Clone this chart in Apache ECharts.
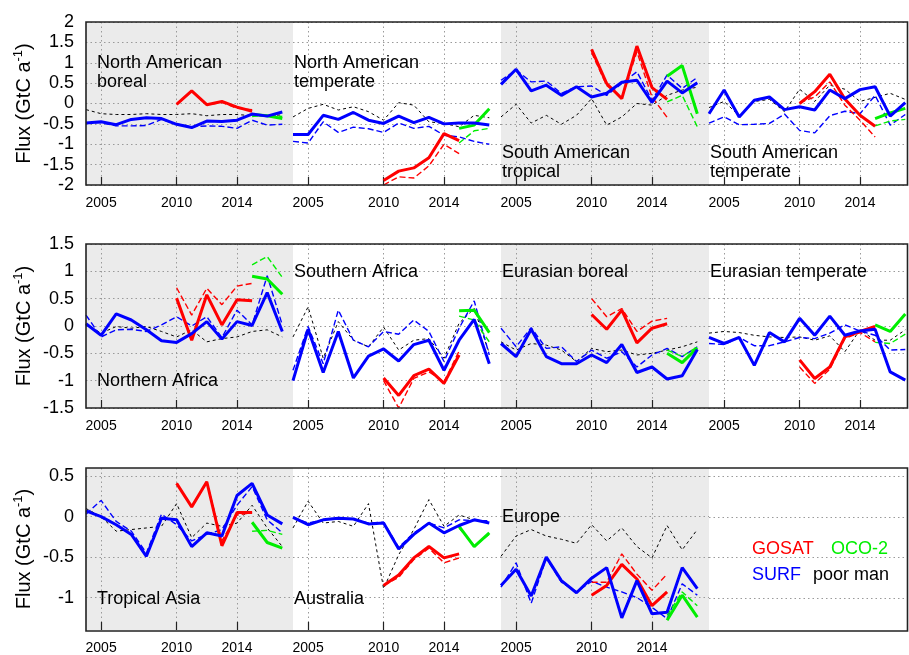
<!DOCTYPE html>
<html>
<head>
<meta charset="utf-8">
<script src="https://cdn.jsdelivr.net/npm/echarts@6/dist/echarts.min.js"></script>
<style>
html, body { margin: 0; padding: 0; background: #fff; }
#main { width: 909px; height: 655px; }
</style>
</head>
<body>
<div id="main"></div>
<script>
// years
const years = [2004, 2005, 2006, 2007, 2008, 2009, 2010, 2011, 2012, 2013, 2014, 2015, 2016, 2017];
const gosatYears = [2010, 2011, 2012, 2013, 2014, 2015];
const ocoYears = [2015, 2016, 2017];
const xTicks = [2005, 2010, 2014];

// panel names (same order as the value rows below)
const regions = [
    'North American\nboreal', 'North American\ntemperate', 'South American\ntropical', 'South American\ntemperate',
    'Northern Africa', 'Southern Africa', 'Eurasian boreal', 'Eurasian temperate',
    'Tropical Asia', 'Australia', 'Europe'
];

// SURF, thick solid blue
const surfSolid = [
    [-0.48, -0.45, -0.52, -0.39, -0.35, -0.37, -0.51, -0.59, -0.43, -0.44, -0.41, -0.26, -0.31, -0.21],
    [-0.76, -0.76, -0.29, -0.39, -0.22, -0.41, -0.49, -0.31, -0.47, -0.34, -0.5, -0.48, -0.48, -0.53],
    [0.47, 0.84, 0.31, 0.45, 0.2, 0.41, 0.16, 0.25, 0.52, 0.57, 0.03, 0.55, 0.26, 0.51],
    [-0.25, 0.33, -0.33, 0.08, 0.16, -0.15, -0.08, -0.16, 0.33, 0.12, 0.34, 0.41, -0.31, 0.02],
    [0.04, -0.17, 0.22, 0.11, -0.07, -0.27, -0.3, -0.14, 0.08, -0.24, 0.08, 0.01, 0.61, -0.1],
    [-1.0, -0.06, -0.85, -0.1, -0.95, -0.55, -0.42, -0.64, -0.34, -0.26, -0.81, -0.26, 0.12, -0.69],
    [-0.32, -0.56, -0.06, -0.56, -0.69, -0.69, -0.53, -0.67, -0.34, -0.85, -0.75, -0.97, -0.91, -0.43],
    [-0.21, -0.32, -0.21, -0.72, -0.12, -0.29, 0.14, -0.17, 0.18, -0.17, -0.09, -0.06, -0.84, -0.99],
    [0.07, 0.0, -0.1, -0.22, -0.49, -0.02, -0.04, -0.37, -0.2, -0.24, 0.26, 0.41, 0.02, -0.09],
    [-0.01, -0.1, -0.04, -0.02, -0.03, -0.09, -0.08, -0.4, -0.22, -0.08, -0.2, -0.11, -0.04, -0.08],
    [-0.85, -0.65, -0.98, -0.5, -0.79, -0.94, -0.76, -0.63, -1.25, -0.79, -1.2, -1.18, -0.63, -0.89]
];

// SURF, thin dashed blue
const surfDashed = [
    [-0.48, -0.47, -0.55, -0.55, -0.54, -0.39, -0.51, -0.57, -0.55, -0.56, -0.61, -0.41, -0.53, -0.51],
    [-0.93, -0.97, -0.45, -0.71, -0.58, -0.62, -0.71, -0.48, -0.61, -0.56, -0.78, -0.82, -0.93, -1.0],
    [0.57, 0.82, 0.53, 0.55, 0.25, 0.41, 0.43, 0.2, 0.49, 0.78, 0.08, 0.7, 0.37, 0.64],
    [-0.48, -0.33, -0.52, -0.51, -0.49, -0.26, -0.66, -0.72, -0.3, -0.19, -0.25, 0.2, -0.53, -0.27],
    [0.2, -0.2, -0.07, -0.06, -0.1, 0.02, 0.17, 0.0, 0.17, -0.21, 0.29, 0.02, 0.92, 0.02],
    [-0.81, -0.01, -0.69, 0.29, -0.26, -0.38, -0.1, -0.15, 0.11, -0.1, -0.65, -0.04, 0.46, -0.53],
    [-0.04, -0.38, -0.03, -0.41, -0.38, -0.65, -0.44, -0.59, -0.47, -0.75, -0.53, -0.41, -0.56, -0.38],
    [-0.32, -0.34, -0.21, -0.36, -0.36, -0.29, -0.21, -0.23, -0.13, 0.02, -0.09, -0.17, -0.44, -0.43],
    [0.03, 0.2, -0.06, -0.18, -0.45, 0.03, -0.1, -0.3, -0.22, -0.16, 0.14, 0.37, -0.04, -0.2],
    [-0.01, -0.08, -0.04, -0.02, -0.03, -0.08, -0.07, -0.38, -0.2, -0.08, -0.14, -0.04, -0.05, -0.05],
    [-0.87, -0.57, -1.07, -0.51, -0.81, -0.93, -0.8, -0.87, -0.93, -1.0, -1.12, -1.26, -0.83, -0.97]
];

// poor man, black dotted
const poorMan = [
    [-0.15, -0.25, -0.27, -0.27, -0.25, -0.27, -0.27, -0.25, -0.3, -0.27, -0.27, -0.3, -0.3, -0.28],
    [-0.33, -0.12, -0.02, -0.16, -0.08, -0.2, -0.41, 0.02, -0.04, -0.45, -0.49, -0.57, -0.29, -0.35],
    [-0.33, -0.02, -0.48, -0.29, -0.51, -0.29, 0.12, -0.53, -0.33, 0.0, -0.04, 0.2, 0.33, 0.4],
    [-0.1, 0.05, -0.3, 0.05, 0.1, -0.2, 0.35, 0.05, 0.45, 0.35, 0.05, 0.15, 0.25, 0.1],
    [0.02, -0.13, -0.01, -0.04, -0.01, -0.1, -0.2, -0.07, -0.29, -0.23, -0.2, -0.1, -0.07, -0.2],
    [-0.2, 0.35, -0.59, 0.08, -0.26, -0.38, -0.02, -0.44, -0.26, -0.23, -0.59, 0.05, 0.32, -0.5],
    [-0.29, -0.44, -0.32, -0.35, -0.44, -0.65, -0.41, -0.47, -0.44, -0.53, -0.5, -0.44, -0.38, -0.29],
    [-0.13, -0.1, -0.12, -0.17, -0.2, -0.21, -0.2, -0.26, -0.18, -0.47, -0.07, -0.26, -0.26, -0.07],
    [0.1, 0.0, -0.18, -0.16, -0.14, -0.12, 0.16, -0.26, -0.08, -0.12, -0.08, 0.14, -0.14, -0.37],
    [-0.14, 0.19, -0.08, -0.06, -0.12, 0.16, -0.89, -0.47, -0.16, 0.21, -0.12, 0.02, -0.04, -0.06],
    [-0.49, -0.24, -0.16, -0.24, -0.28, -0.33, -0.1, -0.3, -0.14, -0.37, -0.51, -0.11, -0.41, -0.16]
];

// GOSAT 2010-2015
const gosatSolid = [
    [-0.02, 0.31, -0.03, 0.05, -0.09, -0.19],
    [-1.89, -1.66, -1.58, -1.33, -0.74, -0.91],
    [1.33, 0.49, 0.12, 1.41, 0.39, 0.1],
    [0.0, 0.29, 0.72, 0.11, -0.29, -0.56],
    [0.51, -0.26, 0.57, 0.02, 0.48, 0.46],
    [-0.95, -1.27, -0.91, -0.79, -1.05, -0.53],
    [0.21, -0.06, 0.29, -0.31, -0.04, 0.04],
    [-0.62, -0.96, -0.75, -0.2, -0.1, -0.01],
    [0.41, 0.12, 0.43, -0.36, 0.05, 0.05],
    [-0.85, -0.72, -0.51, -0.37, -0.51, -0.46],
    [-0.97, -0.85, -0.59, -0.77, -1.1, -0.93]
];
const gosatDashed = [
    [-0.02, 0.3, -0.03, 0.03, -0.12, -0.15],
    [-2.0, -1.8, -1.83, -1.53, -1.0, -1.23],
    [1.25, 0.44, 0.14, 1.27, 0.16, -0.34],
    [0.02, 0.16, 0.53, -0.04, -0.41, -0.82],
    [0.7, 0.2, 0.69, 0.39, 0.73, 0.78],
    [-1.0, -1.5, -0.96, -0.84, -1.02, -0.46],
    [0.5, 0.17, 0.32, -0.1, 0.09, 0.14],
    [-0.75, -1.05, -0.79, -0.23, -0.12, -0.29],
    [0.41, 0.12, 0.43, -0.3, 0.02, 0.05],
    [-0.85, -0.75, -0.53, -0.39, -0.57, -0.51],
    [-0.81, -0.81, -0.46, -0.71, -0.91, -0.71]
];

// OCO-2 2015-2017
const ocoSolid = [
    [-0.27, -0.3, -0.37],
    [-0.61, -0.53, -0.13],
    [0.67, 0.93, -0.25],
    [-0.37, -0.23, -0.12],
    [0.91, 0.86, 0.58],
    [0.28, 0.29, -0.12],
    [-0.5, -0.67, -0.4],
    [0.02, -0.1, 0.22],
    [-0.07, -0.32, -0.39],
    [-0.12, -0.37, -0.2],
    [-1.28, -0.97, -1.24]
];
const ocoDashed = [
    [-0.32, -0.28, -0.32],
    [-0.97, -0.67, -0.61],
    [0.04, 0.2, -0.57],
    [-0.55, -0.43, -0.39],
    [1.12, 1.27, 0.89],
    [0.18, 0.11, -0.29],
    [-0.44, -0.56, -0.38],
    [-0.3, -0.32, -0.15],
    [-0.18, -0.17, -0.22],
    [-0.14, -0.36, -0.22],
    [-1.22, -0.93, -1.1]
];

// y range per row
const yMin = [-2, -1.5, -1.4];
const yMax = [2, 1.5, 0.6];

// ---------------- layout ----------------
const FONT = '"Liberation Sans", Arial, sans-serif';
const colLeft = [86, 293, 501, 709];
const colRight = [293, 501, 709, 907.5];
const rowTop = [22, 244, 468];
const rowBottom = [185, 408, 631];
const pxPerYear = 15.1;
const titlePos = [
    [97, 54], [294, 54], [502, 144], [710, 144],
    [97, 372], [294, 263], [502, 263], [710, 263],
    [97, 590], [294, 590], [502, 508]
];

function zip(xs, ys) {
    return xs.map((x, i) => [x, ys[i]]);
}

let grids = [], xAxes = [], yAxes = [], series = [], graphics = [];
const dotted = { color: '#9a9a9a', type: [1.5, 3], width: 1 };

for (let p = 0; p < 12; p++) {
    const row = Math.floor(p / 4), col = p % 4;
    const w = colRight[col] - colLeft[col];
    const isPanel = p < 11;
    grids.push({
        left: colLeft[col], top: rowTop[row], width: w, height: rowBottom[row] - rowTop[row],
        show: true, borderWidth: 0,
        backgroundColor: (col % 2 === 0) ? '#ebebeb' : '#ffffff'
    });
    xAxes.push({
        type: 'value', gridIndex: p, position: 'bottom', min: 2004, max: 2004 + w / pxPerYear,
        axisLine: { show: false, onZero: false },
        axisTick: { show: isPanel, inside: true, length: 8, customValues: xTicks, lineStyle: { color: '#222', width: 1.2 } },
        axisLabel: { show: isPanel, customValues: xTicks, formatter: v => String(v), fontSize: 14, margin: 11, color: '#000', fontFamily: FONT },
        splitLine: { show: isPanel, lineStyle: dotted }
    });
    let y = {
        type: 'value', gridIndex: p, min: yMin[row], max: yMax[row],
        axisLine: { show: false, onZero: false },
        axisTick: { show: false },
        axisLabel: { show: col === 0, fontSize: 18, margin: 12, color: '#000', fontFamily: FONT },
        splitLine: { show: true, lineStyle: dotted }
    };
    if (row < 2) {
        y.interval = 0.5;
    } else {
        y.axisTick.customValues = [-1, -0.5, 0, 0.5];
        y.axisLabel.customValues = [-1, -0.5, 0, 0.5];
    }
    if (col === 0) {
        y.name = 'Flux (GtC a{sup|-1})';
        y.nameLocation = 'middle';
        y.nameRotate = 90;
        y.nameGap = 50;
        y.nameTextStyle = {
            fontSize: 20, fontFamily: FONT, color: '#000', lineHeight: 24,
            rich: { sup: { fontSize: 13, lineHeight: 14, verticalAlign: 'top', fontFamily: FONT, color: '#000' } }
        };
    }
    yAxes.push(y);

    if (!isPanel) continue;

    const line = (xs, ys, color, width, type) => ({
        type: 'line', xAxisIndex: p, yAxisIndex: p, data: zip(xs, ys),
        symbol: 'none', silent: true, animation: false,
        lineStyle: { color: color, width: width, type: type }
    });
    series.push(line(years, poorMan[p], '#000', 1, [3, 3]));
    series.push(line(years, surfDashed[p], '#0000ff', 1.4, [6, 3]));
    series.push(line(gosatYears, gosatDashed[p], '#ff0000', 1.4, [6, 3]));
    series.push(line(ocoYears, ocoDashed[p], '#00ee00', 1.4, [6, 3]));
    series.push(line(ocoYears, ocoSolid[p], '#00ee00', 3, 'solid'));
    series.push(line(gosatYears, gosatSolid[p], '#ff0000', 3, 'solid'));
    series.push(line(years, surfSolid[p], '#0000ff', 3, 'solid'));

    graphics.push({
        type: 'text', x: titlePos[p][0], y: titlePos[p][1], z: 50,
        style: { text: regions[p], fontSize: 18, fontFamily: FONT, fill: '#000', lineHeight: 19, verticalAlign: 'top' }
    });
}

// frame around each row
for (let r = 0; r < 3; r++) {
    graphics.push({
        type: 'rect', z: 100, silent: true,
        shape: { x: colLeft[0], y: rowTop[r], width: colRight[3] - colLeft[0], height: rowBottom[r] - rowTop[r] },
        style: { fill: 'none', stroke: '#222', lineWidth: 1.6 }
    });
}

// legend text
const legendItems = [
    ['GOSAT', '#ff0000', 752, 549],
    ['OCO-2', '#00ee00', 831, 549],
    ['SURF', '#0000ff', 752, 575],
    ['poor man', '#000', 813, 575]
];
legendItems.forEach(it => {
    graphics.push({
        type: 'text', x: it[2], y: it[3], z: 50,
        style: { text: it[0], fill: it[1], fontSize: 18, fontFamily: FONT, verticalAlign: 'middle' }
    });
});

const myChart = echarts.init(document.getElementById('main'));
myChart.setOption({
    animation: false,
    grid: grids,
    xAxis: xAxes,
    yAxis: yAxes,
    series: series,
    graphic: graphics
});
</script>
</body>
</html>
